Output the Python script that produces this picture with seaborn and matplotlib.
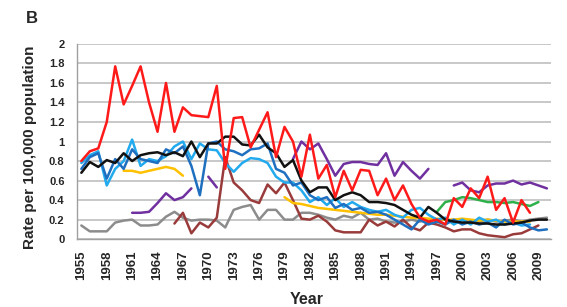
import numpy as np
import pandas as pd
import matplotlib
matplotlib.use("Agg")
import matplotlib.pyplot as plt
import seaborn as sns

# years 1955..2010, None = no data for that year
years = list(range(1955, 2011))

red = [0.80, 0.90, 0.93, 1.20, 1.77, 1.38, 1.57, 1.77, 1.40, 1.10,
       1.60, 1.10, 1.35, 1.27, 1.26, 1.25, 1.57, 0.72, 1.24, 1.25,
       0.94, 1.12, 1.30, 0.84, 1.15, 1.00, 0.64, 1.07, 0.62, 0.76,
       0.43, 0.70, 0.50, 0.71, 0.70, 0.45, 0.62, 0.40, 0.55, 0.36,
       0.22, 0.18, 0.20, 0.15, 0.42, 0.33, 0.52, 0.42, 0.64, 0.30,
       0.42, 0.17, 0.40, 0.27, None, None]
black = [0.68, 0.79, 0.74, 0.81, 0.78, 0.88, 0.80, 0.86, 0.88, 0.89,
         0.86, 0.89, 0.85, 1.00, 0.84, 0.98, 0.98, 1.05, 1.05, 0.97,
         0.96, 1.07, 0.94, 0.88, 0.74, 0.81, 0.60, 0.48, 0.53, 0.53,
         0.40, 0.45, 0.48, 0.45, 0.38, 0.38, 0.37, 0.35, 0.30, 0.25,
         0.22, 0.33, 0.27, 0.20, 0.18, 0.17, 0.17, 0.16, 0.16, 0.15,
         0.15, 0.16, 0.17, 0.19, 0.20, 0.20]
blue = [0.72, 0.84, 0.88, 0.62, 0.82, 0.72, 0.92, 0.82, 0.80, 0.78,
        0.92, 0.88, 0.95, 0.75, 0.45, 0.98, 1.00, 0.92, 0.90, 0.86,
        0.92, 0.93, 0.98, 0.72, 0.68, 0.55, 0.58, 0.45, 0.40, 0.43,
        0.32, 0.36, 0.30, 0.32, 0.27, 0.28, 0.25, 0.20, 0.15, 0.10,
        0.20, 0.15, 0.18, 0.15, 0.20, 0.15, 0.18, 0.15, 0.17, 0.12,
        0.20, 0.15, 0.17, 0.12, 0.09, 0.10]
lightblue = [0.78, 0.86, 0.90, 0.55, 0.72, 0.80, 1.02, 0.75, 0.82, 0.80,
             0.85, 0.95, 1.00, 0.82, 0.98, 0.92, 0.91, 0.78, 0.69, 0.78,
             0.83, 0.82, 0.78, 0.64, 0.58, 0.58, 0.50, 0.38, 0.43, 0.35,
             0.42, 0.33, 0.38, 0.33, 0.30, 0.28, 0.30, 0.25, 0.22, 0.30,
             0.32, 0.25, 0.20, 0.22, 0.15, 0.20, 0.15, 0.22, 0.18, 0.20,
             0.15, 0.17, 0.14, 0.15, None, None]
yellow = [None] * 5 + [0.70, 0.70, 0.68, 0.70, 0.72, 0.74, 0.72, 0.65] + [None] * 11 + \
         [0.43, 0.37, 0.36, 0.34, 0.32, 0.31, 0.30, 0.29, 0.28, 0.27,
          0.26, 0.25, 0.25, 0.24, 0.23, 0.22, 0.22, 0.21, 0.21, 0.20,
          0.20, 0.21, 0.20, 0.19, 0.20, 0.19, 0.18, 0.18, 0.18, 0.18] + [None] * 2
purple = [None] * 6 + [0.27, 0.27, 0.28, 0.37, 0.47, 0.40, 0.43, 0.52] + [None] + \
         [0.64, 0.53] + [None] * 8 + \
         [0.82, 1.00, 0.92, 0.98, 0.82, 0.65, 0.77, 0.79, 0.79, 0.77,
          0.76, 0.88, 0.65, 0.79, 0.70, 0.62, 0.72] + [None] * 2 + \
         [0.55, 0.58, 0.50, 0.48, 0.55, 0.57, 0.57, 0.60, 0.56, 0.58, 0.55, 0.52]
brown = [None] * 11 + [0.16, 0.27, 0.06, 0.17, 0.12, 0.22, 0.84, 0.58, 0.50,
                      0.40, 0.37, 0.56, 0.47, 0.58, 0.40, 0.21, 0.20, 0.24, 0.18,
                      0.09, 0.07, 0.07, 0.07, 0.20, 0.14, 0.18, 0.13, 0.20, 0.12,
                      0.09, 0.17, 0.15, 0.12, 0.08, 0.10, 0.10, 0.06, 0.04, 0.03,
                      0.02, 0.05, 0.06, 0.10, 0.14, None]
gray = [0.14, 0.08, 0.08, 0.08, 0.17, 0.19, 0.20, 0.14, 0.14, 0.15,
        0.23, 0.28, 0.22, 0.19, 0.20, 0.20, 0.19, 0.12, 0.30, 0.33,
        0.35, 0.20, 0.30, 0.30, 0.20, 0.20, 0.27, 0.27, 0.25, 0.22,
        0.20, 0.24, 0.22, 0.27, 0.20, 0.21, 0.18, 0.17, 0.18, 0.20,
        0.18, 0.20, 0.19, 0.20, 0.18, 0.20, 0.19, 0.18, 0.20, 0.18,
        0.19, 0.20, 0.18, 0.20, 0.21, 0.22]
green = [None] * 42 + [0.28, 0.38, 0.40, 0.43, 0.42, 0.40, 0.38, 0.38,
                       0.37, 0.38, 0.36, 0.34, 0.38, None]

series = {
    "gray": (gray, "#8c8c8c"),
    "brown": (brown, "#9a3b3b"),
    "purple": (purple, "#7030a0"),
    "green": (green, "#2eb04a"),
    "yellow": (yellow, "#ffc000"),
    "lightblue": (lightblue, "#22aaee"),
    "blue": (blue, "#1f6fc0"),
    "black": (black, "#111111"),
    "red": (red, "#ff1a1a"),
}

# long-form table, with a segment id so gaps stay gaps
rows = []
for name, (vals, col) in series.items():
    seg = 0
    prev_none = True
    for y, v in zip(years, vals):
        if v is None:
            prev_none = True
            continue
        if prev_none:
            seg += 1
            prev_none = False
        rows.append({"year": y, "rate": v, "series": name, "segment": seg})
df = pd.DataFrame(rows)

sns.set_style("white")
plt.rcParams["font.family"] = ["Liberation Sans", "DejaVu Sans"]
plt.rcParams["font.weight"] = "bold"

fig = plt.figure(figsize=(5.67, 3.07), dpi=100)
ax = fig.add_axes([0.136, 0.221, 0.836, 0.636])

for name, (vals, col) in series.items():
    sub = df[df["series"] == name]
    sns.lineplot(data=sub, x="year", y="rate", units="segment", estimator=None,
                 color=col, linewidth=1.8, ax=ax, legend=False)

ax.set_xlim(1954.5, 2010.5)
ax.set_ylim(0, 2)
ax.set_yticks(np.arange(0, 2.01, 0.2))
ax.set_yticklabels(["0", "0.2", "0.4", "0.6", "0.8", "1", "1.2", "1.4", "1.6", "1.8", "2"],
                   fontsize=8, fontweight="bold")
ax.set_xticks(range(1955, 2011, 3))
ax.set_xticklabels([str(y) for y in range(1955, 2011, 3)], rotation=90,
                   fontsize=9.5, fontweight="bold")
ax.set_xticks(np.arange(1954.5, 2011, 1), minor=True)
ax.tick_params(axis="x", which="major", length=0, pad=8)
ax.tick_params(axis="x", which="minor", length=4, color="#a0a0a0", width=0.8)
ax.tick_params(axis="y", length=5, color="#a0a0a0", width=0.8, pad=4)

ax.yaxis.grid(True, color="#c8c8c8", linewidth=1.4)
ax.set_axisbelow(True)
for s in ["top", "right"]:
    ax.spines[s].set_visible(False)
for s in ["left", "bottom"]:
    ax.spines[s].set_color("#a0a0a0")
    ax.spines[s].set_linewidth(1.0)

ax.set_xlabel("")
ax.set_ylabel("")
fig.text(0.54, 0.025, "Year", fontsize=11.5, fontweight="bold", ha="center", va="center")
fig.text(0.053, 0.52, "Rate per 100,000 population", fontsize=11, fontweight="bold",
         rotation=90, ha="center", va="center")
fig.text(0.045, 0.94, "B", fontsize=12, fontweight="bold", ha="left", va="center")

fig.savefig("out.png", dpi=100)
